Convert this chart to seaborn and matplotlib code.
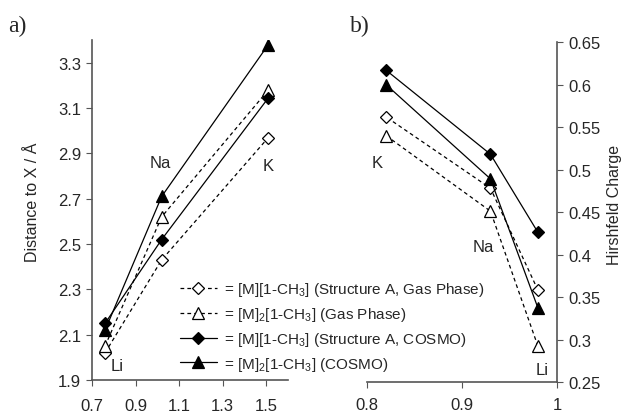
import matplotlib
matplotlib.use("Agg")
import matplotlib.pyplot as plt
import seaborn as sns
import pandas as pd
from matplotlib.lines import Line2D

sns.set_style("ticks")
plt.rcParams['font.family'] = ['Liberation Sans', 'DejaVu Sans']
plt.rcParams['mathtext.fontset'] = 'custom'
plt.rcParams['mathtext.rm'] = 'Liberation Sans'

metals = ["Li", "Na", "K"]
radius = [0.76, 1.02, 1.51]
electroneg = [0.98, 0.93, 0.82]

dist_A_gas = [2.02, 2.43, 2.97]
dist_M2_gas = [2.05, 2.62, 3.18]
dist_A_cosmo = [2.15, 2.52, 3.145]
dist_M2_cosmo = [2.12, 2.71, 3.38]

charge_A_gas = [0.358, 0.478, 0.562]
charge_M2_gas = [0.292, 0.451, 0.540]
charge_A_cosmo = [0.426, 0.518, 0.617]
charge_M2_cosmo = [0.337, 0.489, 0.600]

series_labels = [
    "= [M][1-CH$_3$] (Structure A, Gas Phase)",
    "= [M]$_2$[1-CH$_3$] (Gas Phase)",
    "= [M][1-CH$_3$] (Structure A, COSMO)",
    "= [M]$_2$[1-CH$_3$] (COSMO)",
]
styles = [
    dict(marker="D", mfc="white", ls=(0, (3, 2.5)), ms=6.5),
    dict(marker="^", mfc="white", ls=(0, (3, 2.5)), ms=8.5),
    dict(marker="D", mfc="black", ls="-", ms=6.5),
    dict(marker="^", mfc="black", ls="-", ms=8.5),
]

fig = plt.figure(figsize=(6.28, 4.14), dpi=100)
axa = fig.add_axes([0.1465, 0.0797, 0.312, 0.821])
axb = fig.add_axes([0.5844, 0.0749, 0.3025, 0.821])

dist_series = [dist_A_gas, dist_M2_gas, dist_A_cosmo, dist_M2_cosmo]
charge_series = [charge_A_gas, charge_M2_gas, charge_A_cosmo, charge_M2_cosmo]

for ax, xs, series in [(axa, radius, dist_series), (axb, electroneg, charge_series)]:
    for ys, st in zip(series, styles):
        df = pd.DataFrame({"x": xs, "y": ys})
        sns.lineplot(data=df, x="x", y="y", ax=ax, sort=False, color="black",
                     linewidth=0.9, linestyle=st["ls"], marker=st["marker"],
                     markersize=st["ms"], markerfacecolor=st["mfc"],
                     markeredgecolor="black", markeredgewidth=0.9)

spine_color = "#555555"
tick_fs = 12
lab_fs = 11.5

# panel a
axa.set_xlim(0.7, 1.6)
axa.set_ylim(1.9, 3.4)
axa.set_xticks([0.7, 0.9, 1.1, 1.3, 1.5])
axa.set_yticks([1.9, 2.1, 2.3, 2.5, 2.7, 2.9, 3.1, 3.3])
axa.set_xticklabels(["0.7", "0.9", "1.1", "1.3", "1.5"])
axa.set_yticklabels(["1.9", "2.1", "2.3", "2.5", "2.7", "2.9", "3.1", "3.3"])
axa.set_xlabel("")
axa.set_ylabel("Distance to X / Å", fontsize=lab_fs)
axa.yaxis.label.set_verticalalignment("center")
axa.yaxis.set_label_coords(-0.306, 0.525)
sns.despine(ax=axa)
for s in ["left", "bottom"]:
    axa.spines[s].set_color(spine_color)
    axa.spines[s].set_linewidth(1.2)
axa.tick_params(labelsize=tick_fs, length=4, color=spine_color)
axa.tick_params(axis="x", pad=9)
axa.tick_params(axis="y", pad=4)
axa.text(1.015, 2.86, "Na", fontsize=12, ha="center", va="center")
axa.text(1.507, 2.847, "K", fontsize=12, ha="center", va="center")
axa.text(0.815, 1.966, "Li", fontsize=12, ha="center", va="center")

# panel b
axb.set_xlim(0.8, 1.0)
axb.set_ylim(0.25, 0.65)
axb.set_xticks([0.8, 0.9, 1.0])
axb.set_xticklabels(["0.8", "0.9", "1"])
axb.set_yticks([0.25, 0.3, 0.35, 0.4, 0.45, 0.5, 0.55, 0.6, 0.65])
axb.set_yticklabels(["0.25", "0.3", "0.35", "0.4", "0.45", "0.5", "0.55", "0.6", "0.65"])
axb.yaxis.tick_right()
axb.yaxis.set_label_position("right")
axb.set_xlabel("")
axb.set_ylabel("Hirshfeld Charge", fontsize=lab_fs)
axb.yaxis.label.set_verticalalignment("center")
axb.yaxis.set_label_coords(1.305, 0.525)
axb.spines["top"].set_visible(False)
axb.spines["left"].set_visible(False)
for s in ["right", "bottom"]:
    axb.spines[s].set_color(spine_color)
    axb.spines[s].set_linewidth(1.2)
axb.tick_params(labelsize=tick_fs, length=4, color=spine_color)
axb.tick_params(axis="x", pad=7)
axb.tick_params(axis="y", pad=4)
axb.text(0.8106, 0.508, "K", fontsize=12, ha="center", va="center")
axb.text(0.922, 0.409, "Na", fontsize=12, ha="center", va="center")
axb.text(0.984, 0.265, "Li", fontsize=12, ha="center", va="center")

fig.text(0.013, 0.922, "a)", fontsize=17, family="Liberation Serif", va="baseline")
fig.text(0.557, 0.922, "b)", fontsize=17, family="Liberation Serif", va="baseline")

handles = [Line2D([], [], color="black", lw=0.9, linestyle=st["ls"], marker=st["marker"],
                  markersize=st["ms"], markerfacecolor=st["mfc"], markeredgecolor="black",
                  markeredgewidth=0.9) for st in styles]
fig.legend(handles, series_labels, loc="upper left", bbox_to_anchor=(0.2866, 0.321),
           frameon=False, fontsize=11, handlelength=2.4, handletextpad=0.45,
           labelspacing=0.45, borderaxespad=0, borderpad=0)

fig.savefig("out.png", dpi=100)
